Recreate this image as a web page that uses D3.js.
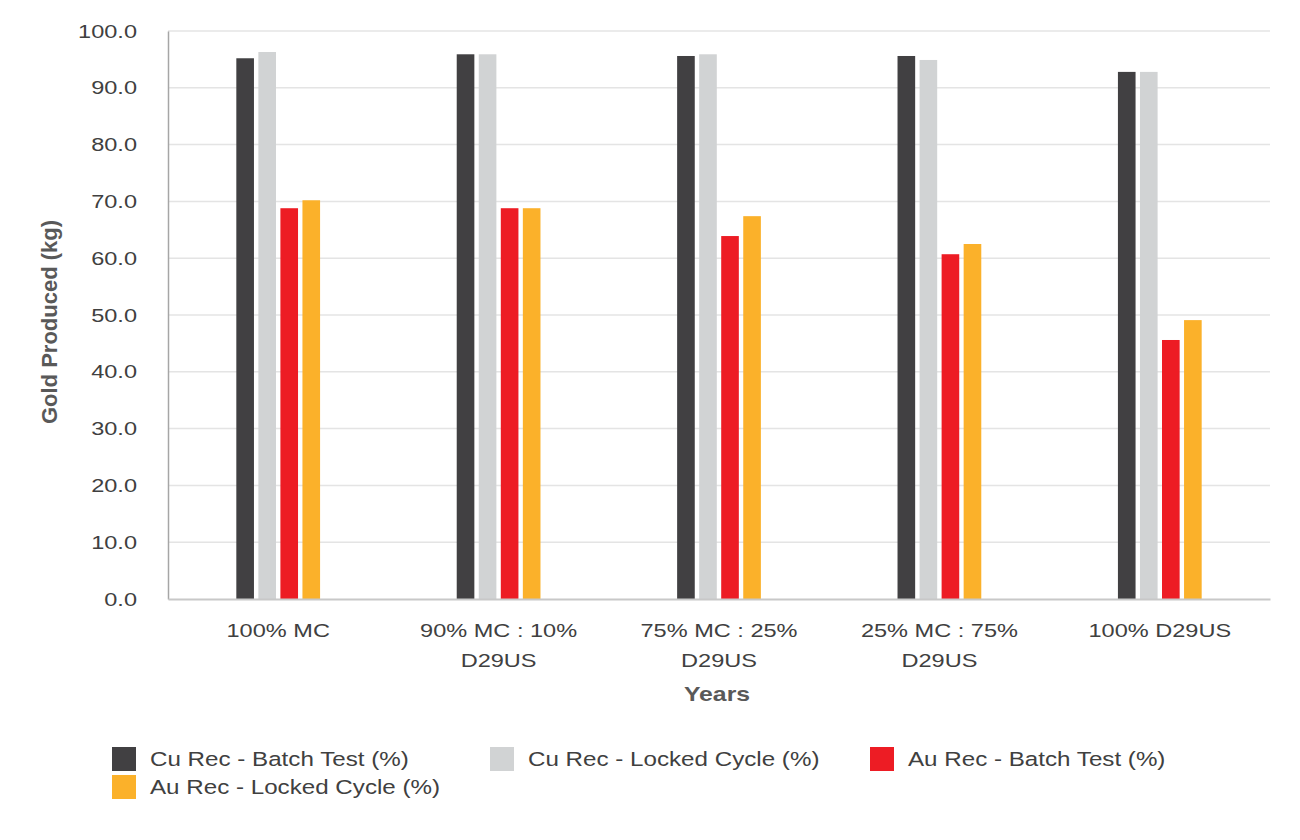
<!DOCTYPE html>
<html><head><meta charset="utf-8">
<script src="https://cdn.jsdelivr.net/npm/d3@7"></script>
<style>
html,body{margin:0;padding:0;background:#fff;}
svg{display:block;font-family:"Liberation Sans",Arial,sans-serif;}
</style></head>
<body><svg id="c" width="1300" height="840"></svg>
<script>
const categories = [["100% MC"],["90% MC : 10%","D29US"],["75% MC : 25%","D29US"],["25% MC : 75%","D29US"],["100% D29US"]];
const seriesNames = ["Cu Rec - Batch Test (%)","Cu Rec - Locked Cycle (%)","Au Rec - Batch Test (%)","Au Rec - Locked Cycle (%)"];
const cuBatch  = [95.2, 95.9, 95.6, 95.6, 92.8];
const cuLocked = [96.3, 95.9, 95.9, 94.9, 92.8];
const auBatch  = [68.8, 68.8, 63.9, 60.7, 45.6];
const auLocked = [70.2, 68.8, 67.4, 62.5, 49.1];
const yTicks = [0,10,20,30,40,50,60,70,80,90,100];
const colors = ["#414042","#d1d3d4","#ed1c24","#fbb12a"];

const SX = 1.24; // horizontal stretch of text seen in reference
const series = [cuBatch, cuLocked, auBatch, auLocked];
const svg = d3.select("#c");
const L = 168, R = 1270, T = 31, B = 599;
const y = d3.scaleLinear().domain([0,100]).range([B,T]);
const x0 = d3.scaleBand().domain(d3.range(categories.length)).range([L,R]).paddingInner(0.62).paddingOuter(0.31);
const x1 = d3.scaleBand().domain(d3.range(series.length)).range([0,x0.bandwidth()]).paddingInner(0.2).paddingOuter(0);

// gridlines
svg.append("g").selectAll("line").data(yTicks.filter(d=>d>0)).join("line")
  .attr("x1",L).attr("x2",R).attr("y1",d=>y(d)).attr("y2",d=>y(d))
  .attr("stroke","#e4e4e4").attr("stroke-width",1.5);

// y axis
const yAxis = svg.append("g").attr("transform",`translate(${L},0)`)
  .call(d3.axisLeft(y).tickValues(yTicks).tickFormat(d3.format(".1f")).tickSize(0).tickPadding(31));
yAxis.select(".domain").attr("stroke","#a6a6a6").attr("stroke-width",1.5);
yAxis.selectAll("text").attr("font-size",19).attr("fill","#404040")
  .attr("font-family","Liberation Sans, Arial, sans-serif")
  .attr("x",-31/SX).attr("transform",`scale(${SX},1)`);

// bars
const g = svg.append("g");
series.forEach((vals,si)=>{
  g.append("g").selectAll("rect").data(vals).join("rect")
    .attr("x",(d,i)=>x0(i)+x1(si))
    .attr("width",x1.bandwidth())
    .attr("y",d=>y(d))
    .attr("height",d=>y(0)-y(d))
    .attr("fill",colors[si]);
});

// x axis
const xAxis = svg.append("g").attr("transform",`translate(0,${B})`)
  .call(d3.axisBottom(x0).tickSize(0).tickFormat(""));
xAxis.select(".domain").attr("stroke","#c8c8c8").attr("stroke-width",2);
xAxis.selectAll(".tick").attr("transform",d=>`translate(${x0(d)+x0.bandwidth()/2},0)`).each(function(d){
  const t = d3.select(this).append("text").attr("fill","#404040").attr("font-size",19)
    .attr("text-anchor","middle").attr("font-family","Liberation Sans, Arial, sans-serif")
    .attr("transform",`scale(${SX},1)`);
  categories[d].forEach((line,k)=>{
    t.append("tspan").attr("x",0).attr("y",38+k*30).text(line);
  });
});

// axis titles
svg.append("text").attr("transform",`translate(57,322) rotate(-90)`)
  .attr("text-anchor","middle").attr("font-size",22).attr("font-weight","bold").attr("fill","#595959")
  .text("Gold Produced (kg)");
svg.append("text").attr("transform",`translate(${(L+R)/2-2},701) scale(${SX},1)`).attr("text-anchor","middle")
  .attr("font-size",20).attr("font-weight","bold").attr("fill","#595959").text("Years");

// legend
const legendPos = [[112,759],[490,759],[870,759],[112,787]];
const lg = svg.append("g");
seriesNames.forEach((n,i)=>{
  const [lx,ly] = legendPos[i];
  lg.append("rect").attr("x",lx).attr("y",ly-12).attr("width",24).attr("height",24).attr("fill",colors[i]);
  lg.append("text").attr("transform",`translate(${lx+38},${ly+7}) scale(${SX},1)`)
    .attr("font-size",19.5).attr("fill","#404040").text(n);
});
</script></body></html>
